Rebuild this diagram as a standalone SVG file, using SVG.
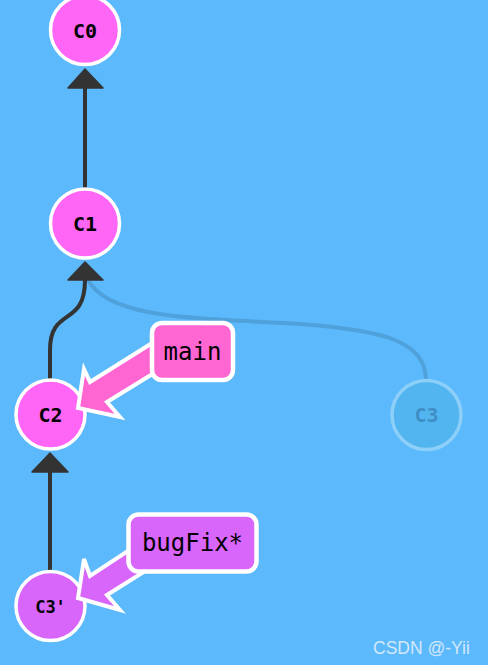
<svg xmlns="http://www.w3.org/2000/svg" width="488" height="665" viewBox="0 0 488 665">
<style>
.commit{fill:#ff66f5;stroke:#fff;stroke-width:3.5}
.bug{fill:#d866fb}
.ghost{fill:#52b5f0;stroke:#8ccff9;stroke-width:3.5}
.clabel{font-family:"DejaVu Sans Mono","Liberation Mono",monospace;font-weight:bold;font-size:20px;text-anchor:middle}
.small{font-size:17px}
.blabel{font-family:"DejaVu Sans Mono","Liberation Mono",monospace;font-size:24px;fill:#000;text-anchor:middle}
.edge{fill:none;stroke:#333;stroke-width:4}
.head{fill:#333;stroke:#333;stroke-width:1.5;stroke-linejoin:round}
.box{stroke:#fff;stroke-width:4.5}
.barrow{stroke:#fff;stroke-width:4;stroke-linejoin:miter}
</style>
<rect width="488" height="665" fill="#5cb9fb"/>
<g id="connectors">
  <path d="M88 280 C110 320 200 318 300 324 C380 330 426 340 426 380" fill="none" stroke="#4c9bd3" stroke-width="4" opacity="0.8"/>
  <path class="edge" d="M85 88 L85 188"/>
  <polygon class="head" points="85,69 103,88 68,88"/>
  <path class="edge" d="M85 280 C85 328 50 306 50 350 L50 380"/>
  <polygon class="head" points="85,262 103,280 68,280"/>
  <path class="edge" d="M50 472 L50 573"/>
  <polygon class="head" points="50,453 68,472 32,472"/>
</g>
<g id="C0">
  <circle class="commit" cx="85" cy="30" r="34.5"/>
  <text class="clabel" fill="#000" x="85" y="38">C0</text>
</g>
<g id="C1">
  <circle class="commit" cx="85" cy="223.5" r="34.5"/>
  <text class="clabel" fill="#000" x="85" y="230.5">C1</text>
</g>
<g id="C2">
  <circle class="commit" cx="50.5" cy="414.5" r="34.5"/>
  <text class="clabel" fill="#000" x="50.5" y="421.5">C2</text>
</g>
<g id="C3">
  <circle class="ghost" cx="426.5" cy="415" r="34.5"/>
  <text class="clabel" fill="#3f8fc6" x="426.5" y="422">C3</text>
</g>
<g id="C3prime">
  <circle class="commit bug" cx="50.5" cy="606" r="34.5"/>
  <text class="clabel small" fill="#000" x="50.5" y="612.5">C3'</text>
</g>
<g id="main">
  <polygon class="barrow" fill="#ff66d2" points="78,408 84,369 90,382 165,335 172,362 107,402 120,417"/>
  <rect class="box" fill="#ff66d2" x="152" y="323" width="81" height="57" rx="10"/>
  <text class="blabel" x="192.5" y="360">main</text>
</g>
<g id="bugFix">
  <polygon class="barrow" fill="#d866fb" points="78,598 84,559 90,576 140,543 150,568 107,595 120,610"/>
  <rect class="box" fill="#d866fb" x="128.5" y="514.5" width="128" height="57" rx="10"/>
  <text class="blabel" x="192.5" y="551">bugFix*</text>
</g>
<text x="373" y="654" font-family="Liberation Sans, Arial, sans-serif" font-size="17.5" fill="#e6f1fb" opacity="0.85">CSDN @-Yii</text>
</svg>
